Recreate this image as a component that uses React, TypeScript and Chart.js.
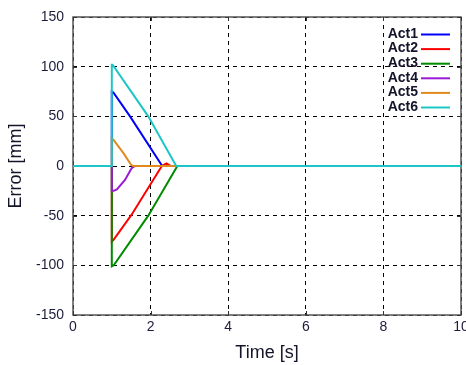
import React, { useEffect, useRef } from "react";
import { Chart, registerables } from "chart.js";

Chart.register(...registerables);

const seriesNames = ["Act1", "Act2", "Act3", "Act4", "Act5", "Act6"];
const seriesColors = ["#0000ff", "#ff0000", "#008a00", "#9a1ad6", "#e08a1e", "#1cc6c6"];

const act1T = [0, 1, 1, 1.04, 1.47, 2.3, 10];
const act1Y = [0, 0, 75, 74, 50, 0, 0];
const act2T = [0, 1, 1, 1.05, 1.51, 2.29, 2.41, 2.52, 10];
const act2Y = [0, 0, -76, -74, -49, 0, 2.5, 0, 0];
const act3T = [0, 1, 1, 1.05, 1.94, 2.69, 10];
const act3Y = [0, 0, -101, -100, -50, 0, 0];
const act4T = [0, 1, 1, 1.05, 1.13, 1.34, 1.51, 1.6, 10];
const act4Y = [0, 0, -25, -25, -23.5, -14, -2.3, 0, 0];
const act5T = [0, 1, 1, 1.05, 1.3, 1.5, 1.55, 10];
const act5Y = [0, 0, 28, 26, 13, 1, 0, 0];
const act6T = [0, 1, 1, 1.02, 1.94, 2.66, 10];
const act6Y = [0, 0, 102, 102, 50, 0, 0];

const seriesT = [act1T, act2T, act3T, act4T, act5T, act6T];
const seriesY = [act1Y, act2Y, act3Y, act4Y, act5Y, act6Y];

const xTicksMin = 0;
const xTicksMax = 10;
const xStep = 2;
const yTicksMin = -150;
const yTicksMax = 150;
const yStep = 50;

const FONT = "'Liberation Sans', Arial, sans-serif";
const TICK_COLOR = "#1c1c3c";

const framePlugin = {
  id: "frame",
  beforeDatasetsDraw(chart: any) {
    const { ctx, chartArea: a, scales } = chart;
    ctx.save();
    ctx.strokeStyle = "#555";
    ctx.lineWidth = 1.5;
    ctx.setLineDash([]);
    ctx.strokeRect(a.left, a.top, a.right - a.left, a.bottom - a.top);
    ctx.lineWidth = 1;
    ctx.strokeStyle = "#333";
    const L = 4;
    scales.x.ticks.forEach((t: any) => {
      const px = Math.round(scales.x.getPixelForValue(t.value)) + 0.5;
      ctx.beginPath();
      ctx.moveTo(px, a.bottom);
      ctx.lineTo(px, a.bottom - L);
      ctx.moveTo(px, a.top);
      ctx.lineTo(px, a.top + L);
      ctx.stroke();
    });
    scales.y.ticks.forEach((t: any) => {
      const py = Math.round(scales.y.getPixelForValue(t.value)) + 0.5;
      ctx.beginPath();
      ctx.moveTo(a.left, py);
      ctx.lineTo(a.left + L, py);
      ctx.moveTo(a.right, py);
      ctx.lineTo(a.right - L, py);
      ctx.stroke();
    });
    ctx.restore();
  },
};

const legendPlugin = {
  id: "insideLegend",
  afterDatasetsDraw(chart: any) {
    const { ctx, chartArea: a } = chart;
    ctx.save();
    ctx.font = "bold 14px " + FONT;
    ctx.textAlign = "right";
    ctx.textBaseline = "middle";
    const x0 = a.right - 40;
    const x1 = a.right - 11;
    const y0 = a.top + 17;
    const step = 14.6;
    chart.data.datasets.forEach((ds: any, i: number) => {
      const y = y0 + i * step;
      ctx.fillStyle = "#14142a";
      ctx.fillText(ds.label, x0 - 3, y);
      ctx.strokeStyle = ds.borderColor;
      ctx.lineWidth = 2;
      ctx.beginPath();
      ctx.moveTo(x0, y + 0.5);
      ctx.lineTo(x1, y + 0.5);
      ctx.stroke();
    });
    ctx.restore();
  },
};

export default function App() {
  const ref = useRef<HTMLCanvasElement>(null);
  useEffect(() => {
    if (!ref.current) return;
    const n = seriesNames.length;
    const datasets = seriesNames.map((name, i) => ({
      label: name,
      data: seriesT[i].map((t, j) => ({ x: t, y: seriesY[i][j] })),
      borderColor: seriesColors[i],
      backgroundColor: seriesColors[i],
      borderWidth: 2,
      pointRadius: 0,
      tension: 0,
      fill: false,
      order: n - 1 - i,
    }));
    const chart = new Chart(ref.current, {
      type: "line",
      data: { datasets },
      options: {
        animation: false,
        responsive: false,
        maintainAspectRatio: false,
        layout: { padding: { top: 17, right: 5, left: 0, bottom: 0 } },
        plugins: { legend: { display: false }, tooltip: { enabled: false } },
        scales: {
          x: {
            type: "linear",
            min: xTicksMin,
            max: xTicksMax,
            ticks: {
              stepSize: xStep,
              color: TICK_COLOR,
              font: { family: FONT, size: 14 },
              padding: 4,
              maxRotation: 0,
            },
            grid: { color: "#000", lineWidth: 1, drawTicks: false },
            border: { display: false, dash: [4, 4] },
            title: {
              display: true,
              text: "Time [s]",
              color: "#14142a",
              font: { family: FONT, size: 18 },
              padding: { top: 0, bottom: 1 },
            },
            afterFit: (s: any) => {
              s.height = 50;
              s.paddingLeft = 0;
              s.paddingRight = 0;
            },
          },
          y: {
            type: "linear",
            min: yTicksMin,
            max: yTicksMax,
            ticks: {
              stepSize: yStep,
              color: TICK_COLOR,
              font: { family: FONT, size: 14 },
              padding: 9,
            },
            grid: { color: "#000", lineWidth: 1, drawTicks: false },
            border: { display: false, dash: [4, 4] },
            title: {
              display: true,
              text: "Error [mm]",
              color: "#14142a",
              font: { family: FONT, size: 18 },
              padding: { top: 5, bottom: 0 },
            },
            afterFit: (s: any) => {
              s.width = 73;
              s.paddingTop = 0;
              s.paddingBottom = 0;
            },
          },
        },
      },
      plugins: [framePlugin, legendPlugin],
    } as any);
    return () => chart.destroy();
  }, []);
  return (
    <div style={{ position: "fixed", left: 0, top: 0, width: 466, height: 365, background: "#fff" }}>
      <canvas ref={ref} width={466} height={365} />
    </div>
  );
}
